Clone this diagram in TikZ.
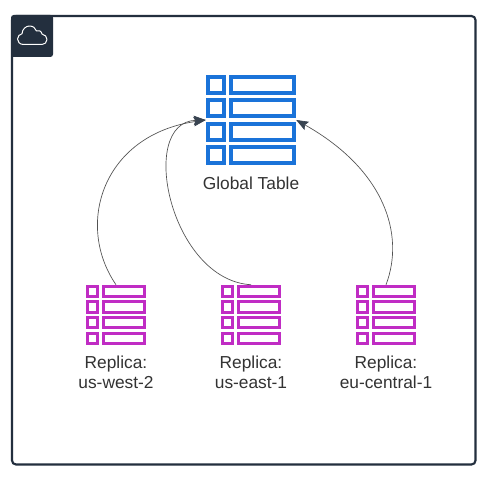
\documentclass[tikz,border=0pt]{standalone}
\usepackage{fontspec}
\setmainfont{Liberation Sans}
\usetikzlibrary{arrows.meta}
\definecolor{framedark}{HTML}{232F3E}
\definecolor{tableblue}{HTML}{1A73D9}
\definecolor{replicapink}{HTML}{C02CC4}
\definecolor{labelgray}{HTML}{333333}
\tikzset{
    iconanchor/.style={inner sep=0pt,minimum width=#1,minimum height=#1},
    iconlabel/.style={text=labelgray,font=\fontsize{13}{15}\selectfont,align=center,anchor=north,inner sep=0pt},
    replication/.style={draw=labelgray!85,line width=0.5pt,-{Stealth[length=9pt,width=7pt,inset=1.5pt,color=framedark!90]}},
}
% one table icon: x, y of the top left corner, colour, stroke, scale
\newcommand{\tableicon}[5]{%
    \begin{scope}[shift={(#1,#2)},x=#5*0.75pt,y=-#5*0.75pt,draw=#3,line width=#4*0.75pt]
        \pgfmathsetmacro{\halfline}{#4/2/#5}
        \foreach \rowtop in {0,23.2,46.6,70}{
            \draw(\halfline,\rowtop+\halfline)rectangle(20-\halfline,\rowtop+20-\halfline);
            \draw(23.3+\halfline,\rowtop+\halfline)rectangle(90-\halfline,\rowtop+20-\halfline);
        }
    \end{scope}
}
\begin{document}
\begin{tikzpicture}[x=0.75pt,y=-0.75pt]
    \useasboundingbox(0,0)rectangle(493,477);
    \fill[white](0,0)rectangle(493,477);
    \draw[framedark,line width=1.6pt,rounded corners=3pt](12,16)rectangle(475.5,464.5);
    \fill[framedark,rounded corners=2pt](11,57)--(11,15)--(53,15)--(53,57)--cycle;
    \fill[framedark](11,50)rectangle(20,57);
    \draw[white,line width=0.75pt,line join=round](23.5,44.5)
        .. controls (19.5,44.5) and (17.5,41.5) .. (17.5,39)
        .. controls (17.5,36) and (20,34) .. (22,33.8)
        .. controls (22.2,29) and (26,26) .. (29.5,26)
        .. controls (33,26) and (35.5,28) .. (36.5,31)
        .. controls (38.5,29.8) and (41.5,31) .. (42,34)
        .. controls (45,34.5) and (47,37) .. (47,39.5)
        .. controls (47,42.5) and (44.5,44.5) .. (42,44.5)
        --cycle;
    % tables
    \tableicon{206}{75}{tableblue}{4}{1}
    \tableicon{86}{285}{replicapink}{3}{0.6667}
    \tableicon{221}{285}{replicapink}{3}{0.6667}
    \tableicon{356}{285}{replicapink}{3}{0.6667}
    \node[iconanchor=67.5pt](globaltable)at(251,120){};
    \node[iconanchor=45pt](westicon)at(116,315){};
    \node[iconanchor=45pt](easticon)at(251,315){};
    \node[iconanchor=45pt](centralicon)at(386,315){};
    \node[iconlabel](globallabel)at(251,177){Global Table};
    \node[iconlabel](westlabel)at(116,356){Replica:\\us-west-2};
    \node[iconlabel](eastlabel)at(251,356){Replica:\\us-east-1};
    \node[iconlabel](centrallabel)at(386,356){Replica:\\eu-central-1};
    % replication arrows
    \draw[replication](westicon.north)
        .. controls (75,225) and (102,135) .. (globaltable.west);
    \draw[replication](easticon.north)
        .. controls (170,280) and (137,122) .. (globaltable.west);
    \draw[replication](centralicon.north)
        .. controls (405,235) and (385,170) .. (globaltable.east);
\end{tikzpicture}
\end{document}
